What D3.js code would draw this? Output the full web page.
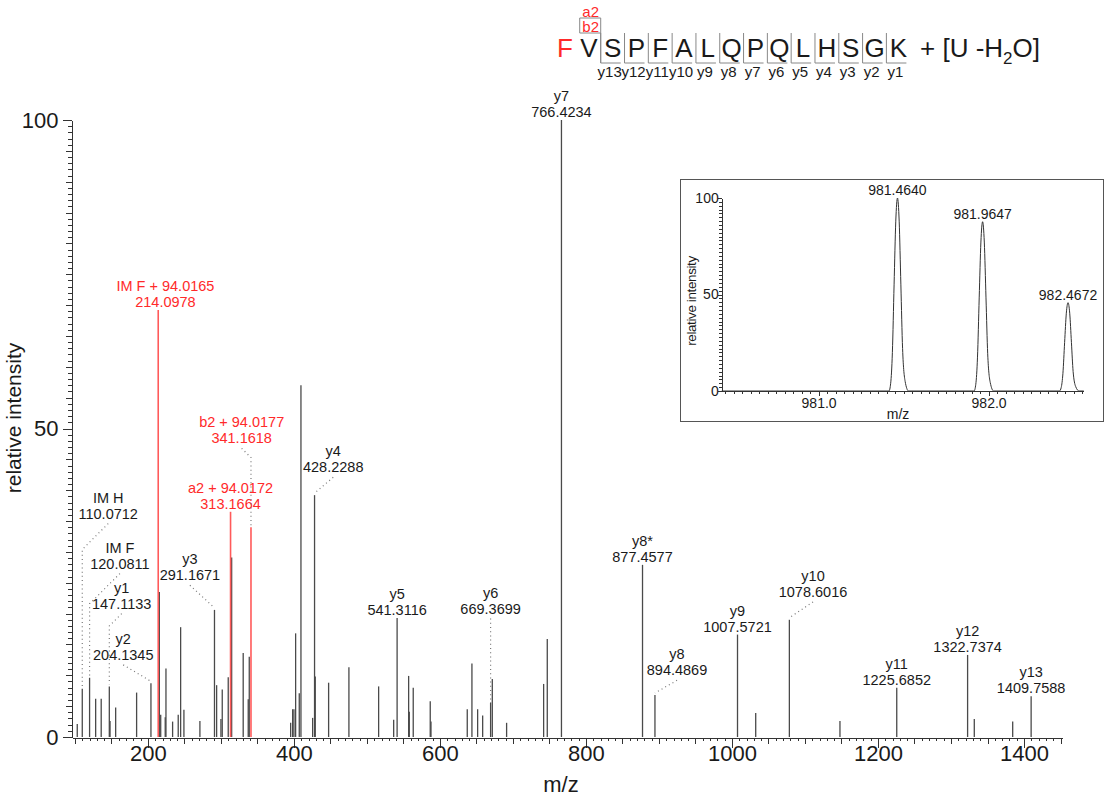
<!DOCTYPE html>
<html>
<head>
<meta charset="utf-8">
<script src="https://cdn.jsdelivr.net/npm/d3@7"></script>
<style>
  body { margin: 0; background: #fff; }
  svg { display: block; font-family: "Liberation Sans", Arial, sans-serif; }
  .axis path, .axis line { stroke: #333; shape-rendering: crispEdges; }
  .axis text { fill: #1a1a1a; font-family: "Liberation Sans", Arial, sans-serif; }
</style>
</head>
<body>
<svg id="chart" width="1105" height="800"></svg>
<script>
// ---- spectrum data (m/z, relative intensity) ----
const peakMz = [103.2, 110.0712, 120.0811, 128.4, 136.0, 147.1133, 148.1, 155.8, 184.5, 204.1345,
  215.6, 217.5, 223.7, 224.7, 233.8, 241.5, 244.8, 249.3, 271.2, 291.1671,
  294.1, 300.0, 301.8, 310.0, 313.6, 314.7, 330.5, 337.4, 338.8, 395.5,
  398.2, 400.0, 402.3, 407.3, 409.6, 425.6, 428.2288, 429.2, 447.5, 475.3,
  516.0, 536.6, 541.3116, 557.1, 558.0, 563.4, 586.7, 587.7, 637.4, 643.8,
  651.6, 658.5, 669.3699, 671.7, 691.3, 742.0, 747.0, 766.4234, 877.4577, 894.4869,
  1007.5721, 1032.5, 1078.6016, 1147.9, 1225.6852, 1322.7374, 1331.9, 1384.5, 1409.7588];
const peakIntensity = [2.1, 7.8, 9.6, 6.2, 6.2, 8.2, 2.6, 4.8, 7.2, 8.7,
  23.5, 3.6, 3.2, 11.1, 2.5, 3.6, 17.8, 4.4, 2.6, 20.6,
  8.4, 2.9, 7.7, 9.7, 5.7, 29.1, 13.6, 6.1, 13.0, 2.3,
  4.5, 4.5, 16.8, 7.1, 57.0, 3.1, 39.2, 9.8, 8.8, 11.3,
  8.2, 2.8, 19.3, 9.9, 4.1, 8.0, 5.8, 2.5, 4.5, 11.9,
  4.5, 3.5, 5.6, 9.4, 2.3, 8.6, 15.9, 100, 27.9, 6.8,
  16.6, 3.9, 19.0, 2.6, 8.0, 13.3, 2.9, 2.5, 6.6];

// peaks carrying the +94 modification (drawn red)
const modPeakMz = [214.0978, 313.1664, 341.1618];
const modPeakIntensity = [69.2, 36.5, 34.0];

// annotated ions
const ionNames = ["IM H", "IM F", "y1", "y2", "IM F + 94.0165", "y3", "a2 + 94.0172", "b2 + 94.0177",
  "y4", "y5", "y6", "y7", "y8*", "y8", "y9", "y10", "y11", "y12", "y13"];
const ionMz = [110.0712, 120.0811, 147.1133, 204.1345, 214.0978, 291.1671, 313.1664, 341.1618,
  428.2288, 541.3116, 669.3699, 766.4234, 877.4577, 894.4869, 1007.5721, 1078.6016, 1225.6852, 1322.7374, 1409.7588];
const ionModified = [false, false, false, false, true, false, true, true,
  false, false, false, false, false, false, false, false, false, false, false];

// peptide
const residues = ["F", "V", "S", "P", "F", "A", "L", "Q", "P", "Q", "L", "H", "S", "G", "K"];
const modifiedResidues = [0];
const yIonCuts = [1, 2, 3, 4, 5, 6, 7, 8, 9, 10, 11, 12, 13];
const aIonCuts = [1];
const bIonCuts = [1];

// axes
const xTickLabels = [200, 400, 600, 800, 1000, 1200, 1400];
const yTickLabels = [0, 50, 100];

// inset: isotope envelope of the precursor
const isoMz = [981.4640, 981.9647, 982.4672];
const isoIntensity = [100, 87.7, 45.8];
const isoShapeOffset = [-0.05, -0.04, -0.03, -0.02, -0.01, 0, 0.01, 0.02, 0.03, 0.045, 0.065];
const isoShapeLevel = [0, 0.04, 0.2, 0.55, 0.88, 1, 0.88, 0.55, 0.22, 0.05, 0];
const isoTickLabels = [981.0, 982.0];

// label anchors (m/z, intensity at value baseline) for labels set off their peak
const labelPlacement = {
  "IM H": [145.6, 35.4], "IM F": [161.6, 27.3], "y1": [164, 20.8], "y2": [166.2, 12.5],
  "IM F + 94.0165": [224, 69.7], "y3": [257.5, 25.4], "b2 + 94.0177": [328.4, 47.6],
  "y4": [453.8, 42.9], "y6": [669.37, 20.0], "y8": [924.7, 10.0], "y10": [1111, 22.7]
};

const RED = "#ff2a2a";
const svg = d3.select("#chart");

// ---- main spectrum ----
const x = d3.scaleLinear().domain([96, 1453]).range([72, 1062.7]);
const y = d3.scaleLinear().domain([0, 100]).range([737, 120]);
const axisY = 737.5;

const gx = svg.append("g").attr("class", "axis").attr("transform", `translate(0,${axisY})`);
gx.append("g").call(d3.axisBottom(x).tickValues(d3.range(100, 1451, 10)).tickSize(3).tickSizeOuter(0).tickFormat(""));
gx.append("g").call(d3.axisBottom(x).tickValues(d3.range(100, 1451, 50)).tickSize(6.5).tickSizeOuter(0).tickFormat(""));
gx.append("g").call(d3.axisBottom(x).tickValues(xTickLabels).tickSize(10).tickSizeOuter(0).tickPadding(-2).tickFormat(d3.format("d")))
  .selectAll("text").style("font-size", "22px");

const gy = svg.append("g").attr("class", "axis").attr("transform", "translate(72,0)");
gy.append("g").call(d3.axisLeft(y).tickValues(d3.range(0, 101, 1)).tickSize(4).tickSizeOuter(0).tickFormat(""));
gy.append("g").call(d3.axisLeft(y).tickValues(d3.range(0, 101, 5)).tickSize(6).tickSizeOuter(0).tickFormat(""));
gy.append("g").call(d3.axisLeft(y).tickValues(yTickLabels).tickSize(9).tickSizeOuter(0).tickPadding(4.5))
  .selectAll("text").style("font-size", "22px");

svg.append("text")
  .attr("transform", "translate(21,418) rotate(-90)")
  .attr("text-anchor", "middle")
  .style("font-size", "21px").attr("fill", "#1a1a1a")
  .text("relative intensity");

svg.append("text")
  .attr("x", 561).attr("y", 792)
  .attr("text-anchor", "middle")
  .style("font-size", "22px").attr("fill", "#1a1a1a")
  .text("m/z");

// peaks
svg.append("g").selectAll("line")
  .data(d3.zip(peakMz, peakIntensity))
  .enter().append("line")
  .attr("x1", d => x(d[0])).attr("x2", d => x(d[0]))
  .attr("y1", y(0)).attr("y2", d => y(d[1]))
  .attr("stroke", "#4a4a4a").attr("stroke-width", 1.3);

svg.append("g").selectAll("line")
  .data(d3.zip(modPeakMz, modPeakIntensity))
  .enter().append("line")
  .attr("x1", d => x(d[0])).attr("x2", d => x(d[0]))
  .attr("y1", y(0)).attr("y2", d => y(d[1]))
  .attr("stroke", "#ff5a5a").attr("stroke-width", 1.6);

// ion labels + dotted leaders
const fmt4 = d3.format(".4f");
const labelG = svg.append("g").style("font-size", "14.5px");
ionNames.forEach((name, i) => {
  const mz = ionMz[i];
  const inten = ionModified[i]
    ? modPeakIntensity[modPeakMz.indexOf(mz)]
    : peakIntensity[peakMz.indexOf(mz)];
  const px = x(mz), top = y(inten);
  let lx = px, base = top - 3;
  if (labelPlacement[name]) {
    lx = x(labelPlacement[name][0]);
    base = y(labelPlacement[name][1]);
  }
  const color = ionModified[i] ? RED : "#1a1a1a";
  labelG.append("text").attr("x", lx).attr("y", base - 16)
    .attr("text-anchor", "middle").attr("fill", color).text(name);
  labelG.append("text").attr("x", lx).attr("y", base)
    .attr("text-anchor", "middle").attr("fill", color).text(fmt4(mz));

  const dx = px - lx, startY = base + 5;
  if (Math.abs(dx) > 10 || top - startY > 12) {
    const bendY = Math.min(startY + Math.abs(dx), top - 2);
    const pts = [[lx, startY], [px, bendY], [px, top - 2]];
    labelG.append("path")
      .attr("d", d3.line()(pts))
      .attr("fill", "none").attr("stroke", "#777")
      .attr("stroke-width", 1.2).attr("stroke-dasharray", "1,3.2");
  }
});

// ---- peptide sequence with fragment markers ----
const seqX = d3.scalePoint().domain(d3.range(residues.length)).range([565, 898.3]);
const cutX = k => (seqX(k) + seqX(k + 1)) / 2;
const seqG = svg.append("g");

seqG.selectAll("text.res")
  .data(residues)
  .enter().append("text")
  .attr("x", (d, i) => seqX(i)).attr("y", 57)
  .attr("text-anchor", "middle")
  .style("font-size", "26px")
  .attr("fill", (d, i) => modifiedResidues.includes(i) ? RED : "#1a1a1a")
  .text(d => d);

const mod = seqG.append("text").attr("x", 920).attr("y", 57)
  .style("font-size", "26px").attr("fill", "#1a1a1a");
mod.append("tspan").text("+ [U -H");
mod.append("tspan").attr("dy", 7).style("font-size", "17px").text("2");
mod.append("tspan").attr("dy", -7).text("O]");

yIonCuts.forEach(k => {
  const cx = cutX(k);
  seqG.append("path")
    .attr("d", d3.line()([[cx, 33], [cx, 63], [cx + 20, 63]]))
    .attr("fill", "none").attr("stroke", "#888").attr("stroke-width", 1);
  seqG.append("text").attr("x", cx + 9).attr("y", 77)
    .attr("text-anchor", "middle").style("font-size", "15px").attr("fill", "#1a1a1a")
    .text("y" + (residues.length - 1 - k));
});

bIonCuts.forEach(k => {
  const cx = cutX(k);
  seqG.append("path")
    .attr("d", d3.line()([[cx - 21, 33], [cx, 33], [cx, 63]]))
    .attr("fill", "none").attr("stroke", "#888").attr("stroke-width", 1);
  seqG.append("text").attr("x", cx - 10).attr("y", 32)
    .attr("text-anchor", "middle").style("font-size", "15px").attr("fill", RED)
    .text("b" + (k + 1));
});

aIonCuts.forEach(k => {
  const cx = cutX(k);
  seqG.append("path")
    .attr("d", d3.line()([[cx - 21, 33], [cx - 21, 18], [cx, 18], [cx, 33]]))
    .attr("fill", "none").attr("stroke", "#888").attr("stroke-width", 1);
  seqG.append("text").attr("x", cx - 10).attr("y", 16.5)
    .attr("text-anchor", "middle").style("font-size", "15px").attr("fill", RED)
    .text("a" + (k + 1));
});

// ---- inset: precursor isotope profile ----
const inset = svg.append("g");
inset.append("rect")
  .attr("x", 680.5).attr("y", 179.5).attr("width", 423).attr("height", 242)
  .attr("fill", "#fff").attr("stroke", "#555").attr("stroke-width", 1);

const ix = d3.scaleLinear().domain([980.43, 982.56]).range([721.7, 1083.8]);
const iy = d3.scaleLinear().domain([0, 100]).range([391, 198]);

const igx = inset.append("g").attr("class", "axis").attr("transform", "translate(0,391)");
igx.append("g").call(d3.axisBottom(ix).tickValues(d3.range(980.45, 982.56, 0.05)).tickSize(2.5).tickSizeOuter(0).tickFormat(""));
igx.append("g").call(d3.axisBottom(ix).tickValues(isoTickLabels).tickSize(5).tickSizeOuter(0).tickPadding(2).tickFormat(d3.format(".1f")))
  .selectAll("text").style("font-size", "14px");

const igy = inset.append("g").attr("class", "axis").attr("transform", "translate(721.7,0)");
igy.append("g").call(d3.axisLeft(iy).tickValues(d3.range(0, 101, 2)).tickSize(2.5).tickSizeOuter(0).tickFormat(""));
igy.append("g").call(d3.axisLeft(iy).tickValues(yTickLabels).tickSize(4).tickSizeOuter(0).tickPadding(-1))
  .selectAll("text").style("font-size", "14px");

const profile = [[ix.domain()[0], 0]];
isoMz.forEach((mz, i) => {
  isoShapeOffset.forEach((o, j) => profile.push([mz + o, isoIntensity[i] * isoShapeLevel[j]]));
});
profile.push([ix.domain()[1], 0]);

inset.append("path")
  .attr("d", d3.line().x(d => ix(d[0])).y(d => iy(d[1])).curve(d3.curveMonotoneX)(profile))
  .attr("fill", "none").attr("stroke", "#333").attr("stroke-width", 1);

inset.selectAll("text.iso")
  .data(d3.zip(isoMz, isoIntensity))
  .enter().append("text")
  .attr("x", d => ix(d[0])).attr("y", d => iy(d[1]) - 3)
  .attr("text-anchor", "middle").style("font-size", "14px").attr("fill", "#1a1a1a")
  .text(d => fmt4(d[0]));

inset.append("text")
  .attr("transform", "translate(696,301) rotate(-90)")
  .attr("text-anchor", "middle")
  .style("font-size", "13.5px").style("letter-spacing", "-0.4px").attr("fill", "#1a1a1a")
  .text("relative intensity");

inset.append("text")
  .attr("x", 898).attr("y", 419)
  .attr("text-anchor", "middle").style("font-size", "14px").attr("fill", "#1a1a1a")
  .text("m/z");
</script>
</body>
</html>
